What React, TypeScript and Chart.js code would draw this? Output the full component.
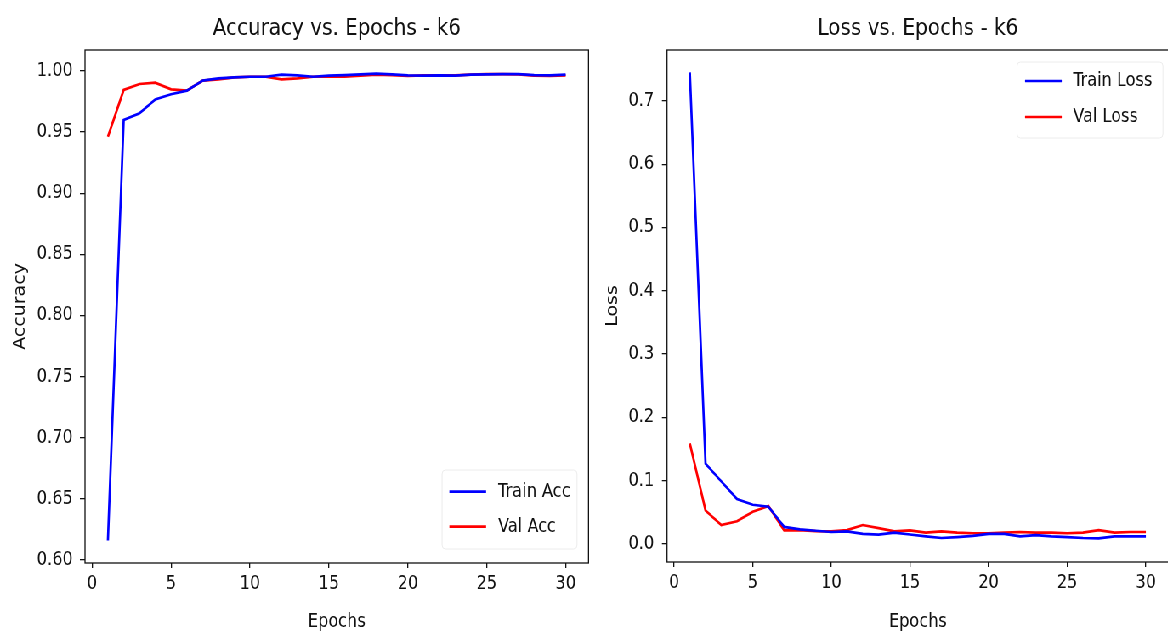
import React, { useEffect, useRef } from "react";
import { Chart, registerables } from "chart.js";

Chart.register(...registerables);

// ---------------- data ----------------
const EPOCHS = [1, 2, 3, 4, 5, 6, 7, 8, 9, 10, 11, 12, 13, 14, 15, 16, 17, 18, 19, 20, 21, 22, 23, 24, 25, 26, 27, 28, 29, 30];

const TRAIN_ACC = [0.616, 0.960, 0.9654, 0.9768, 0.981, 0.9839, 0.9921, 0.994, 0.9948, 0.9953, 0.9953, 0.997, 0.9965, 0.9953, 0.9962, 0.9967, 0.9973, 0.9978, 0.9973, 0.9965, 0.9962, 0.9965, 0.9962, 0.997, 0.9973, 0.9975, 0.9975, 0.9967, 0.9965, 0.997];
const VAL_ACC = [0.9463, 0.9845, 0.9894, 0.9904, 0.985, 0.9839, 0.9921, 0.9932, 0.9948, 0.9953, 0.9953, 0.9932, 0.994, 0.9953, 0.9953, 0.9953, 0.9962, 0.997, 0.9967, 0.9959, 0.9965, 0.9965, 0.9965, 0.997, 0.9975, 0.9975, 0.9973, 0.9962, 0.9959, 0.9965];

const TRAIN_LOSS = [0.745, 0.127, 0.099, 0.071, 0.062, 0.059, 0.027, 0.023, 0.021, 0.019, 0.020, 0.016, 0.015, 0.018, 0.015, 0.012, 0.0095, 0.011, 0.013, 0.016, 0.016, 0.012, 0.014, 0.012, 0.011, 0.0095, 0.009, 0.012, 0.012, 0.012];
const VAL_LOSS = [0.159, 0.053, 0.030, 0.036, 0.051, 0.060, 0.0215, 0.022, 0.0205, 0.020, 0.022, 0.030, 0.025, 0.020, 0.0215, 0.018, 0.020, 0.018, 0.017, 0.017, 0.018, 0.019, 0.018, 0.018, 0.017, 0.018, 0.022, 0.018, 0.019, 0.019];

const X_TICKS = [0, 5, 10, 15, 20, 25, 30];
const ACC_TICKS = [0.6, 0.65, 0.7, 0.75, 0.8, 0.85, 0.9, 0.95, 1.0];
const LOSS_TICKS = [0.0, 0.1, 0.2, 0.3, 0.4, 0.5, 0.6, 0.7];

const ACC_TITLE = "Accuracy vs. Epochs - k6";
const LOSS_TITLE = "Loss vs. Epochs - k6";
const ACC_LABELS = ["Train Acc", "Val Acc"];
const LOSS_LABELS = ["Train Loss", "Val Loss"];

// ---------------- style ----------------
const SX = 0.85; // horizontal squeeze of the reference picture
const FONT = "'DejaVu Sans', 'Open Sans', sans-serif";
const INK = "#111111";
const BLUE = "#0000ff";
const RED = "#ff0000";
const LINE_W = 2.7;

const frameLegendPlugin = {
  id: "frameLegend",
  afterDatasetsDraw(chart: any, _args: any, opts: any) {
    const { ctx, chartArea: ca } = chart;
    ctx.save();
    ctx.strokeStyle = INK;
    ctx.lineWidth = 1.3;
    ctx.strokeRect(ca.left, ca.top, ca.right - ca.left, ca.bottom - ca.top);
    const lg = opts && opts.legend;
    if (lg) {
      const right = ca.right - lg.dxRight;
      const left = right - lg.width;
      const top = lg.corner === "bottom" ? ca.bottom - lg.dyFar : ca.top + lg.dyNear;
      const h = lg.height;
      const r = 4;
      ctx.beginPath();
      ctx.moveTo(left + r, top);
      ctx.lineTo(right - r, top);
      ctx.quadraticCurveTo(right, top, right, top + r);
      ctx.lineTo(right, top + h - r);
      ctx.quadraticCurveTo(right, top + h, right - r, top + h);
      ctx.lineTo(left + r, top + h);
      ctx.quadraticCurveTo(left, top + h, left, top + h - r);
      ctx.lineTo(left, top + r);
      ctx.quadraticCurveTo(left, top, left + r, top);
      ctx.closePath();
      ctx.fillStyle = "rgba(255,255,255,0.8)";
      ctx.fill();
      ctx.strokeStyle = "#ececec";
      ctx.lineWidth = 1;
      ctx.stroke();
      chart.data.datasets.forEach((ds: any, i: number) => {
        const y = top + lg.rowOffset + i * lg.rowGap;
        ctx.strokeStyle = ds.borderColor;
        ctx.lineWidth = LINE_W;
        ctx.beginPath();
        ctx.moveTo(left + lg.lineStart, y);
        ctx.lineTo(left + lg.lineStart + lg.lineLen, y);
        ctx.stroke();
        ctx.fillStyle = INK;
        ctx.font = `19px ${FONT}`;
        ctx.textBaseline = "middle";
        ctx.textAlign = "left";
        ctx.fillText(ds.label, left + lg.textStart, y);
      });
    }
    ctx.restore();
  },
};

type Spec = {
  title: string;
  labels: string[];
  train: number[];
  val: number[];
  yTicks: number[];
  yDigits: number;
  yMin: number;
  yMax: number;
  yLabel: string;
  yAxisW: number;
  yTitlePad: number;
  yTickPad: number;
  xAxisH: number;
  padRight: number;
  legend: any;
};

function makeConfig(p: Spec): any {
  const tickFont = { family: FONT, size: 19, weight: "normal" as const };
  return {
    type: "line",
    data: {
      datasets: [
        {
          label: p.labels[0],
          data: EPOCHS.map((x, i) => ({ x, y: p.train[i] })),
          borderColor: BLUE,
          backgroundColor: BLUE,
          borderWidth: LINE_W,
          pointRadius: 0,
          tension: 0,
          fill: false,
        },
        {
          label: p.labels[1],
          data: EPOCHS.map((x, i) => ({ x, y: p.val[i] })),
          borderColor: RED,
          backgroundColor: RED,
          borderWidth: LINE_W,
          pointRadius: 0,
          tension: 0,
          fill: false,
        },
      ],
    },
    options: {
      animation: false,
      responsive: false,
      events: [],
      layout: { padding: { left: 0, right: p.padRight, top: 0, bottom: 0 } },
      plugins: {
        legend: { display: false },
        tooltip: { enabled: false },
        title: {
          display: true,
          text: p.title,
          fullSize: false,
          color: INK,
          font: { family: FONT, size: 23.5, weight: "normal", lineHeight: 1.2 },
          padding: { top: 14.5, bottom: 7.3 },
        },
        frameLegend: { legend: p.legend },
      },
      scales: {
        x: {
          type: "linear",
          min: -0.45,
          max: 31.45,
          afterBuildTicks: (s: any) => {
            s.ticks = X_TICKS.map((v) => ({ value: v }));
          },
          afterFit: (s: any) => {
            s.height = p.xAxisH;
          },
          ticks: {
            color: INK,
            font: tickFont,
            padding: 5,
            maxRotation: 0,
            autoSkip: false,
            callback: (v: any) => String(v),
          },
          grid: { display: true, drawOnChartArea: false, drawTicks: true, tickLength: 5, color: INK, lineWidth: 1.3 },
          border: { display: false },
          title: {
            display: true,
            text: "Epochs",
            color: INK,
            font: { family: FONT, size: 19, weight: "normal", lineHeight: 1.2 },
            padding: { top: 0, bottom: 3.6 },
          },
        },
        y: {
          type: "linear",
          min: p.yMin,
          max: p.yMax,
          afterBuildTicks: (s: any) => {
            s.ticks = p.yTicks.map((v) => ({ value: v }));
          },
          afterFit: (s: any) => {
            s.width = p.yAxisW;
          },
          ticks: {
            color: INK,
            font: tickFont,
            padding: p.yTickPad,
            autoSkip: false,
            callback: (v: any) => Number(v).toFixed(p.yDigits),
          },
          grid: { display: true, drawOnChartArea: false, drawTicks: true, tickLength: 6, color: INK, lineWidth: 1.3 },
          border: { display: false },
          title: {
            display: true,
            text: p.yLabel,
            color: INK,
            font: { family: FONT, size: 19, weight: "normal", lineHeight: 1.2 },
            padding: { top: p.yTitlePad, bottom: 0 },
          },
        },
      },
    },
    plugins: [frameLegendPlugin],
  };
}

const LEFT_W = 740;
const RIGHT_X = 700;
const RIGHT_W = 690;
const H = 637;

export default function App() {
  const leftRef = useRef<HTMLCanvasElement | null>(null);
  const rightRef = useRef<HTMLCanvasElement | null>(null);

  useEffect(() => {
    const accChart = new Chart(
      leftRef.current as HTMLCanvasElement,
      makeConfig({
        title: ACC_TITLE,
        labels: ACC_LABELS,
        train: TRAIN_ACC,
        val: VAL_ACC,
        yTicks: ACC_TICKS,
        yDigits: 2,
        yMin: 0.59755,
        yMax: 1.01718,
        yLabel: "Accuracy",
        yAxisW: 100,
        yTitlePad: 12.5,
        yTickPad: 8.4,
        xAxisH: 74,
        padRight: LEFT_W - 692.35,
        legend: {
          corner: "bottom",
          dxRight: 13.5,
          width: 158.8,
          dyFar: 93,
          height: 79,
          rowOffset: 21.7,
          rowGap: 35,
          lineStart: 8.6,
          lineLen: 43.2,
          textStart: 65.9,
        },
      })
    );
    const lossChart = new Chart(
      rightRef.current as HTMLCanvasElement,
      makeConfig({
        title: LOSS_TITLE,
        labels: LOSS_LABELS,
        train: TRAIN_LOSS,
        val: VAL_LOSS,
        yTicks: LOSS_TICKS,
        yDigits: 1,
        yMin: -0.0284,
        yMax: 0.7804,
        yLabel: "Loss",
        yAxisW: 84.7,
        yTitlePad: 10,
        yTickPad: 9.2,
        xAxisH: 75,
        padRight: RIGHT_W - 674.9,
        legend: {
          corner: "top",
          dxRight: 6.7,
          width: 171.7,
          dyNear: 12,
          height: 76,
          rowOffset: 19,
          rowGap: 36,
          lineStart: 9.4,
          lineLen: 43.2,
          textStart: 65.9,
        },
      })
    );
    return () => {
      accChart.destroy();
      lossChart.destroy();
    };
  }, []);

  return (
    <div style={{ position: "fixed", left: 0, top: 0, width: 1168, height: H, overflow: "hidden", background: "#fff" }}>
      <div
        style={{
          position: "absolute",
          left: 0,
          top: 0,
          width: 1168 / SX,
          height: H,
          transform: `scaleX(${SX})`,
          transformOrigin: "0 0",
        }}
      >
        <canvas
          ref={leftRef}
          width={LEFT_W}
          height={H}
          style={{ position: "absolute", left: 0, top: 0, width: LEFT_W, height: H }}
        />
        <canvas
          ref={rightRef}
          width={RIGHT_W}
          height={H}
          style={{ position: "absolute", left: RIGHT_X, top: 0, width: RIGHT_W, height: H }}
        />
      </div>
    </div>
  );
}
